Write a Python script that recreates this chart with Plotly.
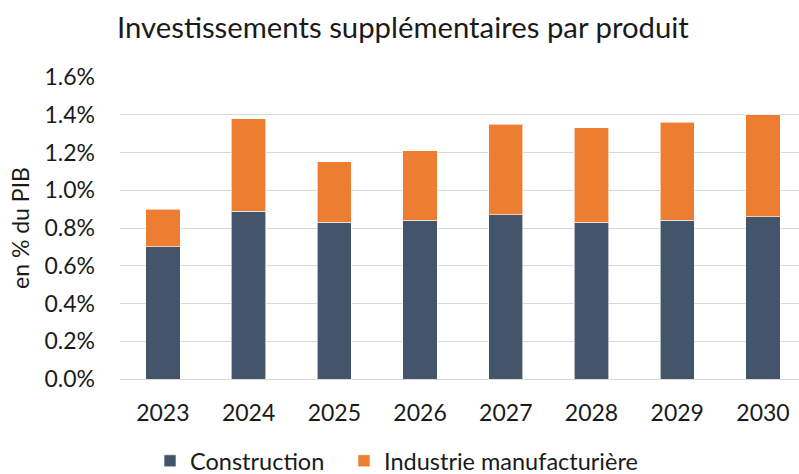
import plotly.graph_objects as go

years = ["2023", "2024", "2025", "2026", "2027", "2028", "2029", "2030"]
construction = [0.70, 0.89, 0.83, 0.84, 0.87, 0.83, 0.84, 0.86]
industrie = [0.20, 0.49, 0.32, 0.37, 0.48, 0.50, 0.52, 0.54]
y_ticks = [0.0, 0.2, 0.4, 0.6, 0.8, 1.0, 1.2, 1.4, 1.6]

FONT = "Lato"
TEXT = "#1a1a1a"

fig = go.Figure()
fig.add_trace(go.Bar(
    x=years, y=construction, name="Construction",
    marker=dict(color="#44546A", line=dict(color="rgba(255,255,255,0.6)", width=1)),
    legend="legend",
))
fig.add_trace(go.Bar(
    x=years, y=industrie, name="Industrie manufacturière",
    marker=dict(color="#ED7D31", line=dict(color="rgba(255,255,255,0.6)", width=1)),
    legend="legend2",
))

legend_style = dict(
    orientation="h", xanchor="left", xref="container",
    y=1 - 461 / 474, yanchor="middle", yref="container",
    font=dict(size=23.5, family=FONT, color=TEXT),
    itemwidth=30, bgcolor="rgba(0,0,0,0)",
)

fig.update_layout(
    barmode="stack",
    bargap=0.6,
    width=799, height=474,
    margin=dict(l=120, r=0, t=77, b=95, autoexpand=False),
    paper_bgcolor="white", plot_bgcolor="white",
    font=dict(family=FONT, color=TEXT, size=20),
    title=dict(
        text="Investissements supplémentaires par produit",
        x=117 / 799, xanchor="left", xref="container",
        y=1 - 28 / 474, yanchor="middle", yref="container",
        font=dict(size=29.3, family=FONT, color=TEXT),
    ),
    legend=dict(x=150 / 799, **legend_style),
    legend2=dict(x=344 / 799, **legend_style),
    showlegend=True,
)

fig.update_xaxes(
    range=[-0.5, 7.42],
    showline=True, linecolor="#D9D9D9", linewidth=1,
    ticks="", tickfont=dict(size=23),
    ticklabelstandoff=13,
)
fig.update_yaxes(
    range=[0, 1.6], tickvals=y_ticks,
    ticktext=[f"{v:.1f}%" for v in y_ticks],
    showgrid=True, gridcolor="#D9D9D9", gridwidth=1,
    zeroline=False, ticks="", tickfont=dict(size=23),
    ticklabelstandoff=24,
    title=dict(text="en % du PIB", font=dict(size=23), standoff=8),
)

fig.write_html("out.html")
